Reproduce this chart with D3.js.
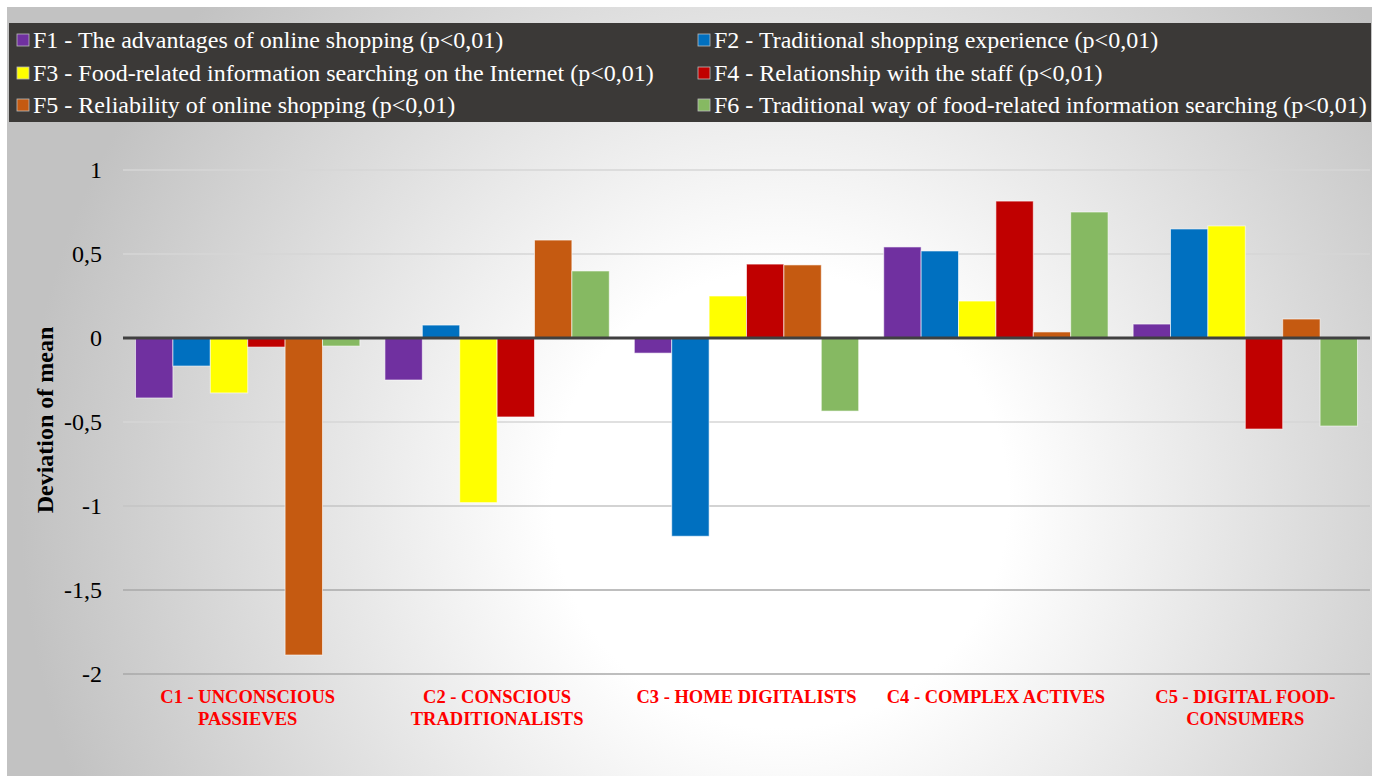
<!DOCTYPE html>
<html><head><meta charset="utf-8">
<script src="https://cdn.jsdelivr.net/npm/d3@7"></script>
<style>body{margin:0;background:#fff}svg{display:block}</style>
</head><body><svg id="c" width="1381" height="776"></svg>
<script>
const categories = [["C1 - UNCONSCIOUS","PASSIEVES"],["C2 - CONSCIOUS","TRADITIONALISTS"],["C3 - HOME DIGITALISTS"],["C4 - COMPLEX ACTIVES"],["C5 - DIGITAL FOOD-","CONSUMERS"]];
const seriesNames = ["F1 - The advantages of online shopping (p<0,01)","F2 - Traditional shopping experience (p<0,01)","F3 - Food-related information searching on the Internet (p<0,01)","F4 - Relationship with the staff (p<0,01)","F5 - Reliability of online shopping (p<0,01)","F6 - Traditional way of food-related information searching (p<0,01)"];
const colors = ["#7030a0","#0070c0","#ffff00","#c00000","#c55a11","#86b962"];
const F1 = [-0.357,-0.25,-0.09,0.542,0.083];
const F2 = [-0.167,0.077,-1.18,0.518,0.649];
const F3 = [-0.327,-0.98,0.25,0.22,0.667];
const F4 = [-0.054,-0.47,0.44,0.815,-0.542];
const F5 = [-1.887,0.583,0.435,0.036,0.113];
const F6 = [-0.048,0.399,-0.435,0.75,-0.524];
const yTicks = [1,0.5,0,-0.5,-1,-1.5,-2];
const yTickLabels = ["1","0,5","0","-0,5","-1","-1,5","-2"];
const series = [F1,F2,F3,F4,F5,F6];

const svg = d3.select("#c");
const defs = svg.append("defs");
const rg = defs.append("radialGradient").attr("id","bg").attr("gradientUnits","userSpaceOnUse")
  .attr("cx",780).attr("cy",500).attr("r",760);
rg.append("stop").attr("offset","0").attr("stop-color","#ffffff");
rg.append("stop").attr("offset","0.3").attr("stop-color","#ffffff");
rg.append("stop").attr("offset","1").attr("stop-color","#c2c2c2");
svg.append("rect").attr("x",7).attr("y",7).attr("width",1365).attr("height",769).attr("fill","url(#bg)");

// legend box
svg.append("rect").attr("x",9).attr("y",23).attr("width",1362).attr("height",99).attr("fill","#3b3937");
const legX = [17,698], legY = [40,73,105];
seriesNames.forEach((n,i)=>{
  const g = svg.append("g").attr("transform",`translate(${legX[i%2]},${legY[Math.floor(i/2)]})`);
  g.append("rect").attr("x",0).attr("y",-6).attr("width",12).attr("height",12).attr("fill",colors[i]).attr("stroke","#bbb").attr("stroke-width",0.8);
  g.append("text").attr("x",16).attr("y",8).attr("fill","#fff")
    .attr("font-family","Liberation Serif, Times New Roman, serif").attr("font-size",24).text(n);
});

const x0 = 123, x1 = 1370;
const y = d3.scaleLinear().domain([-2,1]).range([674,170]);
const xc = d3.scaleBand().domain(d3.range(categories.length)).range([x0,x1]).paddingInner(0).paddingOuter(0);
const xs = d3.scaleBand().domain(d3.range(6)).range([0,xc.bandwidth()]).paddingInner(0).paddingOuter(0.335);

// grid
svg.append("g").selectAll("line").data(yTicks.filter(t=>t!==0)).join("line")
  .attr("x1",x0).attr("x2",x1).attr("y1",d=>y(d)).attr("y2",d=>y(d))
  .attr("stroke",d=>d<=-1.5?"#a8a8a8":(d<=-1?"#c4c4c4":"#d6d6d6")).attr("stroke-width",1.5);

// y axis labels
const ax = d3.axisLeft(y).tickValues(yTicks).tickFormat((d,i)=>yTickLabels[i]).tickSize(0).tickPadding(0);
const ag = svg.append("g").attr("transform","translate(102,0)").call(ax);
ag.select(".domain").remove();
ag.selectAll("text").attr("font-family","Liberation Serif, Times New Roman, serif").attr("font-size",24).attr("fill","#000").attr("dy","0.32em");

svg.append("text").attr("transform","translate(53,420) rotate(-90)").attr("text-anchor","middle")
  .attr("font-family","Liberation Serif, Times New Roman, serif").attr("font-size",24).attr("font-weight","bold").text("Deviation of mean");

// bars
categories.forEach((c,ci)=>{
  series.forEach((s,si)=>{
    const v = s[ci];
    svg.append("rect").attr("x",xc(ci)+xs(si)).attr("width",xs.bandwidth())
      .attr("y",y(Math.max(0,v))).attr("height",Math.abs(y(v)-y(0)))
      .attr("fill",colors[si]).attr("stroke","rgba(255,255,255,0.6)").attr("stroke-width",1);
  });
});

// zero line
svg.append("line").attr("x1",x0).attr("x2",x1).attr("y1",y(0)).attr("y2",y(0)).attr("stroke","#404040").attr("stroke-width",3);

// category labels
categories.forEach((c,ci)=>{
  const t = svg.append("text").attr("text-anchor","middle").attr("fill","#ff0000")
    .attr("font-family","Liberation Serif, Times New Roman, serif").attr("font-size",18.5).attr("font-weight","bold");
  c.forEach((line,li)=>t.append("tspan").attr("x",xc(ci)+xc.bandwidth()/2).attr("y",703+li*22).text(line));
});
</script></body></html>
